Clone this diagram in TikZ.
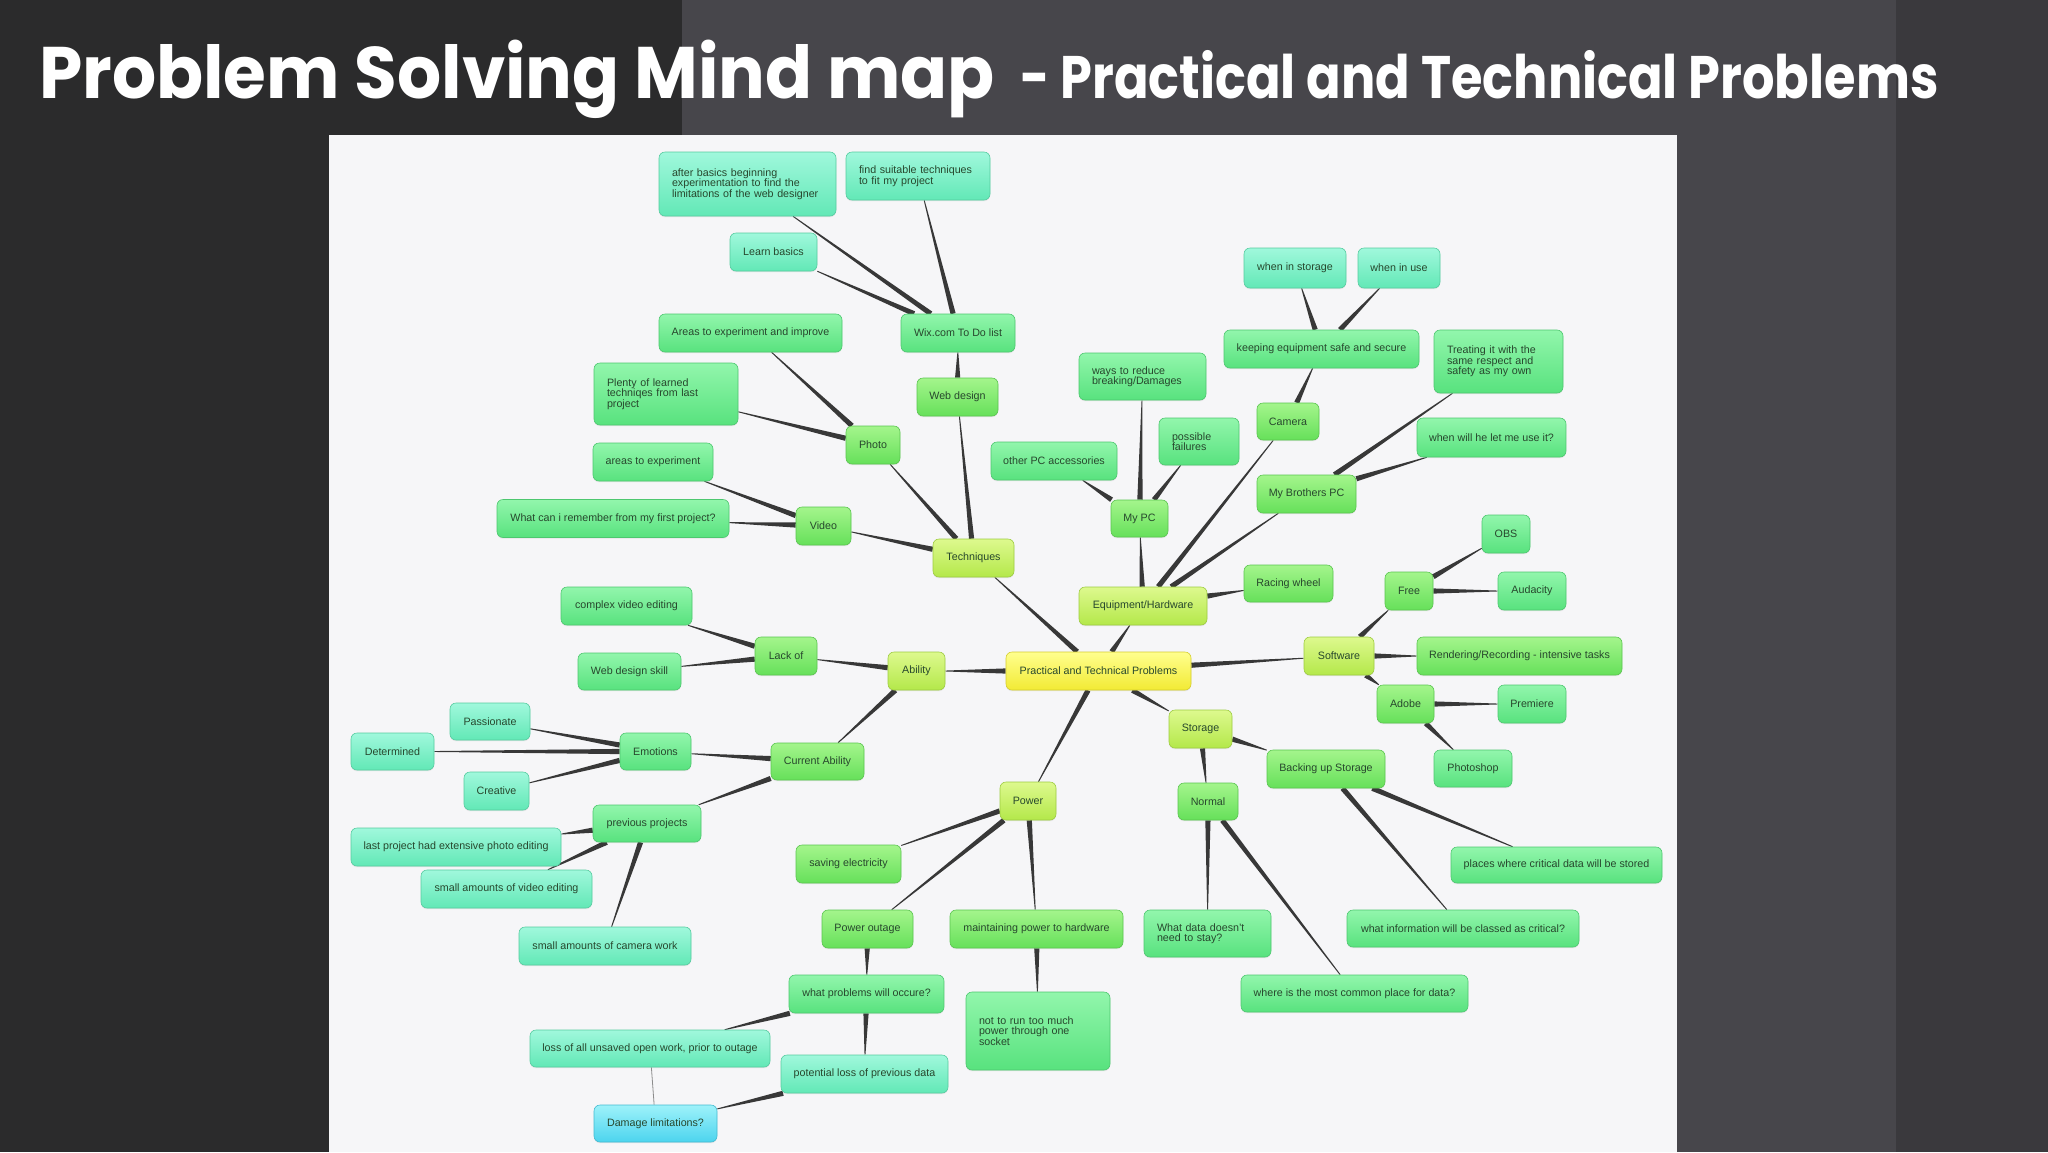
\documentclass[tikz,border=0pt]{standalone}
\usepackage{fontspec}
\setmainfont{Liberation Sans}
\newfontfamily\headfont{Poppins}
\usetikzlibrary{calc,shadows}

\definecolor{slateL}{HTML}{2B2B2C}
\definecolor{slateM}{HTML}{47464B}
\definecolor{slateR}{HTML}{3A393D}
\definecolor{canvas}{HTML}{F6F6F8}
\definecolor{ink}{HTML}{27472D}
\definecolor{twigc}{HTML}{383838}
\definecolor{yelT}{HTML}{FFFF8E}\definecolor{yelB}{HTML}{F2EA34}
\definecolor{limT}{HTML}{DDF98E}\definecolor{limB}{HTML}{B4E84A}
\definecolor{grnT}{HTML}{A4F58C}\definecolor{grnB}{HTML}{66E05A}
\definecolor{mntT}{HTML}{92F6AC}\definecolor{mntB}{HTML}{58E27E}
\definecolor{aquT}{HTML}{A0F8DC}\definecolor{aquB}{HTML}{62E8B6}
\definecolor{cynT}{HTML}{9EF2FA}\definecolor{cynB}{HTML}{4CD4EE}

\pgfdeclarelayer{panel}
\pgfdeclarelayer{links}
\pgfsetlayers{panel,links,main}

\begin{document}
\begin{tikzpicture}[x=1pt, y=-1pt, font=\fontsize{10.7}{10.5}\selectfont,
     box/.style={rounded corners=6pt, minimum height=38pt, inner xsep=5pt, inner ysep=3pt, text=ink, line width=0.6pt,
                 drop shadow={opacity=0.15, shadow xshift=0pt, shadow yshift=-1.2pt}},
     lv0/.style={box, top color=yelT, bottom color=yelB, draw=yelB!88!black},
     lv1/.style={box, top color=limT, bottom color=limB, draw=limB!88!black},
     lv2/.style={box, top color=grnT, bottom color=grnB, draw=grnB!88!black},
     lv3/.style={box, top color=mntT, bottom color=mntB, draw=mntB!88!black},
     lv4/.style={box, top color=aquT, bottom color=aquB, draw=aquB!88!black},
     lv5/.style={box, top color=cynT, bottom color=cynB, draw=cynB!88!black},
     wd/.style={minimum width=#1pt},
     ht/.style={minimum height=#1pt},
     para/.style={text width=#1pt, align=left, inner xsep=13pt},
     twig/.style={fill=twigc},
     thinlink/.style={draw=black!45, line width=0.8pt},
     head/.style={anchor=base west, inner sep=0pt, text=white}]
   \useasboundingbox (0,0) rectangle (2048,1152);
   \begin{pgfonlayer}{panel}
     \fill[slateL] (0,0) rectangle (682,1152);
     \fill[slateM] (682,0) rectangle (1896,1152);
     \fill[slateR] (1896,0) rectangle (2048,1152);
     \fill[canvas] (329,135) rectangle (1677,1152);
   \end{pgfonlayer}

   \node[head, font=\headfont\bfseries\fontsize{73}{80}\selectfont, xscale=0.95] (title) at (39,98) {Problem Solving Mind map};
   \node[head, font=\headfont\bfseries\fontsize{60}{66}\selectfont, xscale=0.85] (subtitle) at (1020,98) {- Practical and Technical Problems};

   % centre and first ring
   \node[lv0, wd=185] (root) at (1098.5,671) {Practical and Technical Problems};
   \node[lv1, wd=81] (tech) at (973.5,558) {Techniques};
   \node[lv1, wd=128] (equip) at (1143,606) {Equipment/Hardware};
   \node[lv1, wd=57] (abil) at (916.5,671) {Ability};
   \node[lv1, wd=70] (soft) at (1339,656) {Software};
   \node[lv1, wd=63] (stor) at (1200.5,729) {Storage};
   \node[lv1, wd=56] (power) at (1028,801) {Power};

   % Techniques
   \node[lv2, wd=54] (photo) at (873,445) {Photo};
   \node[lv2, wd=55] (video) at (823.5,526) {Video};
   \node[lv2, wd=81] (webd) at (957.5,397) {Web design};
   \node[lv3, wd=114] (wix) at (958,333) {Wix.com To Do list};
   \node[lv4, para=151, ht=64] (afterb) at (747.5,184) {after basics beginning\\experimentation to find the\\limitations of the web designer};
   \node[lv4, para=118, ht=48] (suit) at (918,176) {find suitable techniques\\to fit my project};
   \node[lv4, wd=87] (learn) at (773.5,252) {Learn basics};
   \node[lv3, wd=183] (improve) at (750.5,333) {Areas to experiment and improve};
   \node[lv3, para=118, ht=62] (plenty) at (666,394) {Plenty of learned\\techniqes from last\\project};
   \node[lv3, wd=120] (areas) at (653,462) {areas to experiment};
   \node[lv3, wd=232] (remember) at (613,518.5) {What can i remember from my first project?};

   % Equipment/Hardware
   \node[lv2, wd=57, ht=37] (mypc) at (1139.5,518.5) {My PC};
   \node[lv2, wd=62, ht=37] (camera) at (1288,421.5) {Camera};
   \node[lv2, wd=99] (bropc) at (1306.5,494) {My Brothers PC};
   \node[lv2, wd=89, ht=37] (racing) at (1288.5,583.5) {Racing wheel};
   \node[lv3, para=101, ht=47] (ways) at (1142.5,376.5) {ways to reduce\\breaking/Damages};
   \node[lv3, para=54, ht=47] (fail) at (1199,441.5) {possible\\failures};
   \node[lv3, wd=126] (acc) at (1054,461) {other PC accessories};
   \node[lv3, wd=195] (keep) at (1321.5,349) {keeping equipment safe and secure};
   \node[lv4, wd=102, ht=40] (instore) at (1295,268) {when in storage};
   \node[lv4, wd=82, ht=40] (inuse) at (1399,268) {when in use};
   \node[lv3, para=103, ht=63] (treat) at (1498.5,361.5) {Treating it with the\\same respect and\\safety as my own};
   \node[lv3, wd=149, ht=39] (letme) at (1491.5,437.5) {when will he let me use it?};

   % Ability
   \node[lv2, wd=62] (lack) at (786,656) {Lack of};
   \node[lv2, wd=93, ht=37] (curr) at (817.5,761.5) {Current Ability};
   \node[lv3, wd=131] (complex) at (626.5,606) {complex video editing};
   \node[lv3, wd=103, ht=37] (webskill) at (629.5,671.5) {Web design skill};
   \node[lv3, wd=71, ht=37] (emot) at (655.5,751.5) {Emotions};
   \node[lv3, wd=108, ht=37] (prevproj) at (647,823.5) {previous projects};
   \node[lv4, wd=80, ht=37] (passion) at (490,721.5) {Passionate};
   \node[lv4, wd=83, ht=37] (determ) at (392.5,751.5) {Determined};
   \node[lv4, wd=65] (creat) at (496.5,791) {Creative};
   \node[lv4, wd=210] (photoed) at (456,847) {last project had extensive photo editing};
   \node[lv4, wd=171] (videoed) at (506.5,889) {small amounts of video editing};
   \node[lv4, wd=172] (camwork) at (605,946) {small amounts of camera work};

   % Software
   \node[lv2, wd=48] (free) at (1409,591) {Free};
   \node[lv2, wd=57] (adobe) at (1405.5,704) {Adobe};
   \node[lv2, wd=205] (render) at (1519.5,656) {Rendering/Recording - intensive tasks};
   \node[lv3, wd=48] (obs) at (1506,534) {OBS};
   \node[lv3, wd=68] (audacity) at (1532,591) {Audacity};
   \node[lv3, wd=68] (premiere) at (1532,704) {Premiere};
   \node[lv3, wd=78, ht=37] (pshop) at (1473,768.5) {Photoshop};

   % Storage
   \node[lv2, wd=118] (backup) at (1326,769) {Backing up Storage};
   \node[lv2, wd=60, ht=37] (normal) at (1208,801.5) {Normal};
   \node[lv3, wd=211, ht=36] (places) at (1556.5,865) {places where critical data will be stored};
   \node[lv3, wd=232, ht=37] (classed) at (1463,928.5) {what information will be classed as critical?};
   \node[lv3, para=101, ht=47] (nostay) at (1207.5,933.5) {What data doesn't\\need to stay?};
   \node[lv3, wd=227, ht=37] (common) at (1354.5,993.5) {where is the most common place for data?};

   % Power
   \node[lv2, wd=105] (saving) at (848.5,864) {saving electricity};
   \node[lv2, wd=91] (outage) at (867.5,929) {Power outage};
   \node[lv2, wd=173] (maint) at (1036.5,929) {maintaining power to hardware};
   \node[lv3, wd=155] (probs) at (866.5,994) {what problems will occure?};
   \node[lv3, para=118, ht=78] (socket) at (1038,1031) {not to run too much\\power through one\\socket};
   \node[lv4, wd=240, ht=37] (unsaved) at (650,1048.5) {loss of all unsaved open work, prior to outage};
   \node[lv4, wd=167] (prevdata) at (864.5,1074) {potential loss of previous data};
   \node[lv5, wd=123, ht=37] (damage) at (655.5,1123.5) {Damage limitations?};

   % tapered links, thick at the parent
   \begin{pgfonlayer}{links}
     \foreach \pa/\ch in {root/tech, root/equip, root/abil, root/soft, root/stor, root/power,
         tech/photo, tech/video, tech/webd, webd/wix, wix/afterb, wix/learn, wix/suit,
         photo/improve, photo/plenty, video/areas, video/remember,
         equip/mypc, equip/camera, equip/bropc, equip/racing, mypc/ways, mypc/fail, mypc/acc,
         camera/keep, keep/instore, keep/inuse, bropc/treat, bropc/letme,
         abil/lack, abil/curr, lack/complex, lack/webskill, curr/emot, curr/prevproj,
         emot/passion, emot/determ, emot/creat, prevproj/photoed, prevproj/videoed, prevproj/camwork,
         soft/free, soft/render, soft/adobe, free/obs, free/audacity, adobe/premiere, adobe/pshop,
         stor/backup, stor/normal, backup/places, backup/classed, normal/nostay, normal/common,
         power/saving, power/outage, power/maint, outage/probs, maint/socket,
         probs/unsaved, probs/prevdata, prevdata/damage}{
       \path (\pa) -- (\ch) coordinate[pos=0] (s) coordinate[pos=1] (e);
       \fill[twig] ($(s)!2.6pt!90:(e)$) -- ($(s)!2.6pt!-90:(e)$) -- ($(e)!0.45pt!90:(s)$) -- ($(e)!0.45pt!-90:(s)$) -- cycle;
     }
     \draw[thinlink] (unsaved) -- (damage);
   \end{pgfonlayer}
  \end{tikzpicture}
\end{document}
